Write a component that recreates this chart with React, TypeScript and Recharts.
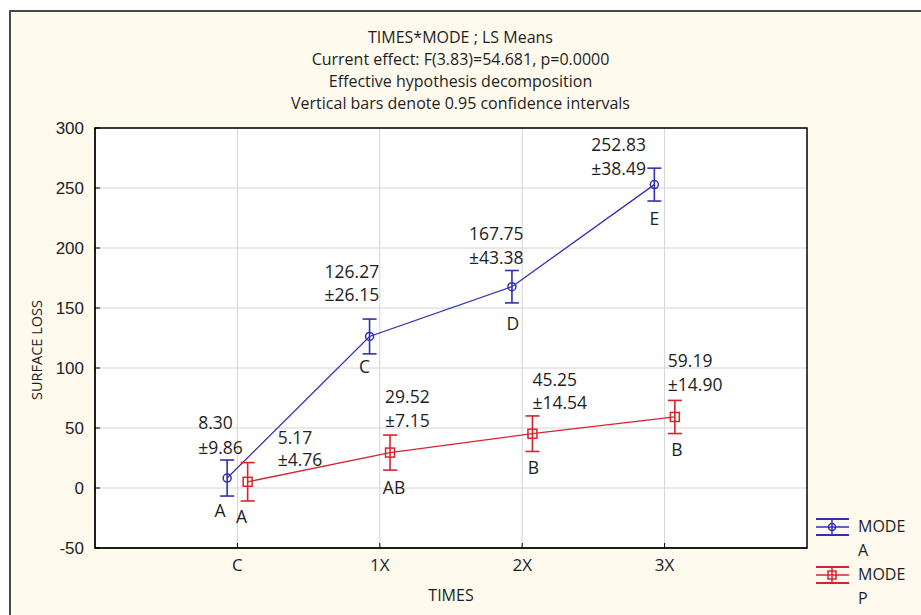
import React from "react";
import {
  ComposedChart,
  Line,
  XAxis,
  YAxis,
  CartesianGrid,
  ErrorBar,
  ReferenceArea,
} from "recharts";

// categories and values
const times = ["C", "1X", "2X", "3X"];
const modeAMeans = [8.3, 126.27, 167.75, 252.83];
const modeAPlusMinus = [9.86, 26.15, 43.38, 38.49];
const modeACi = [15, 14.5, 13.5, 13.7];
const modeALetters = ["A", "C", "D", "E"];

const modePMeans = [5.17, 29.52, 45.25, 59.19];
const modePPlusMinus = [4.76, 7.15, 14.54, 14.9];
const modePCi = [16, 14.6, 14.8, 13.8];
const modePLetters = ["A", "AB", "B", "B"];

const yTicks = [-50, 0, 50, 100, 150, 200, 250, 300];
const xTicks = [1, 2, 3, 4];

const titleLines = [
  "TIMES*MODE ; LS Means",
  "Current effect: F(3.83)=54.681, p=0.0000",
  "Effective hypothesis decomposition",
  "Vertical bars denote 0.95 confidence intervals",
];

// where each annotation sits relative to its point (layout only)
const offsetsA = [
  { dx: -29, vy: -56, py: -31, lx: -7, ly: 32 },
  { dx: -45, vy: -65, py: -42, lx: -5, ly: 30 },
  { dx: -43, vy: -54, py: -30, lx: 1, ly: 36 },
  { dx: -63, vy: -41, py: -17, lx: 0, ly: 33 },
];
const offsetsP = [
  { dx: 30, vy: -45, py: -23, lx: -6, ly: 34 },
  { dx: -5, vy: -57, py: -33, lx: 4, ly: 34 },
  { dx: 0, vy: -55, py: -32, lx: 1, ly: 33 },
  { dx: -7, vy: -57, py: -33, lx: 2, ly: 32 },
];

const BLUE = "#3030b4";
const RED = "#d8232f";
const SHIFT = 0.072;

const dataA = times.map((t, i) => ({
  x: i + 1 - SHIFT,
  y: modeAMeans[i],
  ci: modeACi[i],
}));
const dataP = times.map((t, i) => ({
  x: i + 1 + SHIFT,
  y: modePMeans[i],
  ci: modePCi[i],
}));

const labelFont = "'Open Sans', sans-serif";

function makeLabel(means: number[], pm: number[], letters: string[], offs: any[]) {
  return (props: any) => {
    const { x, y, index } = props;
    if (x == null || y == null) return null;
    const o = offs[index];
    return (
      <g fontFamily={labelFont} fontSize={17.5} fill="#1e1e1e">
        <text x={x + o.dx} y={y + o.vy} dominantBaseline="central" textAnchor="start">
          {means[index].toFixed(2)}
        </text>
        <text x={x + o.dx} y={y + o.py} dominantBaseline="central" textAnchor="start">
          {"±" + pm[index].toFixed(2)}
        </text>
        <text x={x + o.lx} y={y + o.ly} dominantBaseline="central" textAnchor="middle">
          {letters[index]}
        </text>
      </g>
    );
  };
}

const CircleDot = (props: any) => {
  const { cx, cy } = props;
  if (cx == null || cy == null) return null;
  return <circle cx={cx} cy={cy} r={4} fill="none" stroke={BLUE} strokeWidth={1.5} />;
};

const SquareDot = (props: any) => {
  const { cx, cy } = props;
  if (cx == null || cy == null) return null;
  return (
    <rect x={cx - 4.5} y={cy - 4.5} width={9} height={9} fill="none" stroke={RED} strokeWidth={1.5} />
  );
};

function LegendItem({ color, square, label, top }: { color: string; square?: boolean; label: string; top: number }) {
  return (
    <div style={{ position: "absolute", left: 814, top, width: 100, height: 46 }}>
      <svg width={40} height={24} style={{ position: "absolute", left: 0, top: 2 }}>
        <line x1={2} x2={35} y1={3} y2={3} stroke={color} strokeWidth={2} />
        <line x1={2} x2={35} y1={19} y2={19} stroke={color} strokeWidth={2} />
        <line x1={2} x2={35} y1={11} y2={11} stroke={color} strokeWidth={1.5} />
        <line x1={18} x2={18} y1={3} y2={19} stroke={color} strokeWidth={1.5} />
        {square ? (
          <rect x={14} y={7} width={8} height={8} fill="none" stroke={color} strokeWidth={1.5} />
        ) : (
          <circle cx={18} cy={11} r={3.5} fill="none" stroke={color} strokeWidth={1.5} />
        )}
      </svg>
      <div
        style={{
          position: "absolute",
          left: 44,
          top: 0,
          fontFamily: labelFont,
          fontSize: 16,
          lineHeight: "24px",
          color: "#1e1e1e",
        }}
      >
        MODE
        <br />
        {label}
      </div>
    </div>
  );
}

export default function App() {
  return (
    <div style={{ position: "absolute", left: 0, top: 0, width: 921, height: 615, background: "#fff", overflow: "hidden" }}>
      <div
        style={{
          position: "absolute",
          left: 9,
          top: 10,
          width: 930,
          height: 620,
          background: "#fffaee",
          borderLeft: "2px solid #4a4a4a",
          borderTop: "2px solid #4a4a4a",
        }}
      />
      {titleLines.map((t, i) => (
        <div
          key={t}
          style={{
            position: "absolute",
            left: 0,
            width: 921,
            textAlign: "center",
            top: 26 + i * 22,
            fontFamily: labelFont,
            fontSize: 16,
            lineHeight: "22px",
            color: "#1e1e1e",
          }}
        >
          {t}
        </div>
      ))}
      <div style={{ position: "absolute", left: 0, top: 0 }}>
        <ComposedChart
          width={921}
          height={615}
          margin={{ top: 128, right: 114, bottom: 37, left: 35 }}
        >
          <CartesianGrid stroke="#d4d4d4" fill="#ffffff" horizontalValues={yTicks} verticalValues={xTicks} />
          <XAxis
            type="number"
            dataKey="x"
            domain={[0, 5]}
            ticks={xTicks}
            tickFormatter={(v: number) => times[v - 1] ?? ""}
            height={30}
            axisLine={{ stroke: "#000" }}
            tickLine={{ stroke: "#000" }}
            tickSize={-5}
            tickMargin={16}
            tick={{ fill: "#1e1e1e", fontSize: 17, fontFamily: labelFont }}
            allowDuplicatedCategory={false}
          />
          <YAxis
            type="number"
            domain={[-50, 300]}
            ticks={yTicks}
            width={60}
            axisLine={{ stroke: "#000" }}
            tickLine={{ stroke: "#000" }}
            tickSize={-5}
            tickMargin={16}
            tick={{ fill: "#1e1e1e", fontSize: 17, fontFamily: "'Liberation Sans', Arial, sans-serif" }}
          />
          <ReferenceArea x1={0} x2={5} y1={-50} y2={300} fill="none" stroke="#000" strokeWidth={1.5} />
          <Line
            data={dataA}
            dataKey="y"
            stroke={BLUE}
            strokeWidth={1.3}
            dot={<CircleDot />}
            activeDot={false}
            isAnimationActive={false}
            label={makeLabel(modeAMeans, modeAPlusMinus, modeALetters, offsetsA)}
          >
            <ErrorBar dataKey="ci" direction="y" width={7} stroke={BLUE} strokeWidth={1.6} isAnimationActive={false} />
          </Line>
          <Line
            data={dataP}
            dataKey="y"
            stroke={RED}
            strokeWidth={1.3}
            dot={<SquareDot />}
            activeDot={false}
            isAnimationActive={false}
            label={makeLabel(modePMeans, modePPlusMinus, modePLetters, offsetsP)}
          >
            <ErrorBar dataKey="ci" direction="y" width={7} stroke={RED} strokeWidth={1.6} isAnimationActive={false} />
          </Line>
        </ComposedChart>
      </div>
      <svg width={921} height={615} style={{ position: "absolute", left: 0, top: 0, pointerEvents: "none" }}>
        <text
          x={451}
          y={595}
          textAnchor="middle"
          dominantBaseline="central"
          fontFamily={labelFont}
          fontSize={16}
          fill="#1e1e1e"
        >
          TIMES
        </text>
        <text
          transform="translate(36,350) rotate(-90)"
          textAnchor="middle"
          dominantBaseline="central"
          fontFamily={labelFont}
          fontSize={14.5}
          fill="#1e1e1e"
        >
          SURFACE LOSS
        </text>
      </svg>
      <LegendItem color={BLUE} label="A" top={514} />
      <LegendItem color={RED} square label="P" top={562} />
    </div>
  );
}
